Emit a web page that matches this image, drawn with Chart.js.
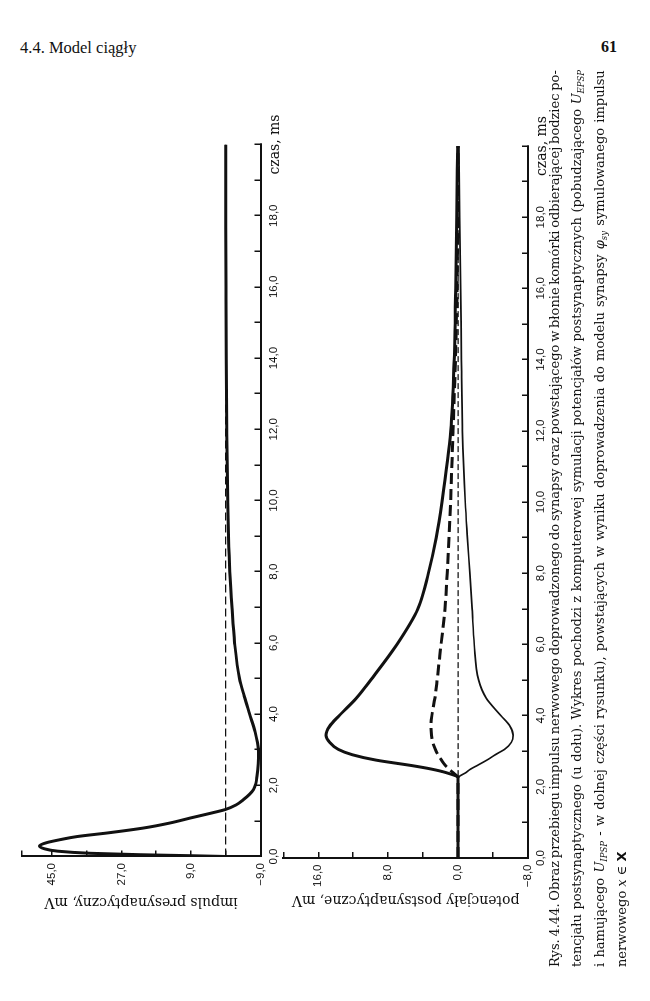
<!DOCTYPE html>
<html><head><meta charset="utf-8">
<script src="https://cdn.jsdelivr.net/npm/chart.js@4.4.1/dist/chart.umd.min.js"></script>
<style>
html,body{margin:0;padding:0;background:#fff;}
body{width:650px;height:1001px;position:relative;overflow:hidden;color:#111;}
#hdrL{position:absolute;left:20px;top:40px;font:16.5px "Liberation Serif";line-height:16px;white-space:nowrap;}
#hdrR{position:absolute;left:601px;top:39px;font:bold 16px "Liberation Serif";line-height:16px;}
#rot{position:absolute;left:0;top:1001px;width:1001px;height:650px;transform-origin:0 0;transform:rotate(-90deg);}
#cTop{position:absolute;left:0;top:0;}
#cBot{position:absolute;left:0;top:280px;}
#cap{position:absolute;left:34px;top:544px;width:897px;font:13px "DejaVu Serif";color:#111;}
#cap div{height:22.4px;line-height:22.4px;white-space:nowrap;text-align:left;}
#cap span.ln{display:inline-block;}
#cap sub{font-size:8.5px;line-height:0;vertical-align:-3px;}
</style></head>
<body>
<div id="hdrL">4.4. Model ciągły</div><div id="hdrR">61</div>
<div id="rot">
<canvas id="cTop" width="1001" height="300"></canvas>
<canvas id="cBot" width="1001" height="290"></canvas>
<div id="cap">
<div><span class="ln fit">Rys. 4.44. Obraz przebiegu impulsu nerwowego doprowadzonego do synapsy oraz powstającego w błonie komórki odbierającej bodziec po-</span></div>
<div><span class="ln fit">tencjału postsynaptycznego (u dołu). Wykres pochodzi z komputerowej symulacji potencjałów postsynaptycznych (pobudzającego <i>U</i><sub><i>EPSP</i></sub></span></div>
<div><span class="ln fit">i hamującego <i>U</i><sub><i>IPSP</i></sub> - w dolnej części rysunku), powstających w wyniku doprowadzenia do modelu synapsy <i>φ</i><sub><i>sy</i></sub> symulowanego impulsu</span></div>
<div><span class="ln">nerwowego <i>x</i> ∈ <b style="font-family:'DejaVu Sans';">X</b></span></div>
</div>
</div>
<script>
// ---- tick labels ----
const timeLabelVals = [0, 2, 4, 6, 8, 10, 12, 14, 16, 18];
const presynLabelVals = [45, 27, 9, -9];
const postLabelVals = [16, 8, 0, -8];

// ---- top chart: presynaptic impulse (mV) ----
const presynTime = [0, 0.02, 0.05, 0.09, 0.15, 0.22, 0.30, 0.39, 0.47, 0.56, 0.67, 0.80, 0.94, 1.08, 1.20, 1.32, 1.45, 1.60, 1.75, 1.88, 2.05, 2.26, 2.60, 2.90, 3.20, 3.50, 4.00, 4.50, 5.00, 6.00, 7.00, 8.00, 9.00, 10.0, 11.0, 12.0, 13.0, 14.0, 16.0, 18.0, 20.0];
const presynVals = [0, 8, 22, 35, 43.5, 47, 48.2, 46.3, 43, 38.5, 30, 21.3, 14.5, 9.2, 4.5, 0.1, -2.7, -4.6, -6.2, -7.2, -7.8, -8.1, -8.4, -8.5, -8.2, -7.6, -6.2, -4.8, -3.55, -2.3, -1.6, -1.05, -0.72, -0.52, -0.38, -0.28, -0.2, -0.14, -0.07, -0.03, 0];
const restTopTime = [0, 20];
const restTopVals = [0, 0];

// ---- bottom chart: postsynaptic potentials (mV) ----
const postTime = [0, 2.25, 2.40, 2.50, 2.60, 2.75, 2.90, 3.05, 3.25, 3.45, 3.70, 4.00, 4.50, 5.00, 6.00, 7.00, 8.00, 9.00, 10.0, 12.0, 14.0, 16.0, 18.0, 20.0];
const epspVals = [0, 0, 1.4, 3.1, 5.4, 9.4, 12.1, 13.7, 14.7, 15.1, 14.7, 13.6, 11.6, 10.0, 7.0, 4.6, 3.4, 2.5, 1.85, 0.85, 0.45, 0.28, 0.15, 0.05];
const ipspVals = [0, 0, -0.9, -1.45, -2.2, -3.3, -4.25, -5.3, -6.1, -6.3, -5.95, -4.9, -3.2, -2.35, -1.85, -1.6, -1.34, -1.07, -0.82, -0.5, -0.38, -0.3, -0.18, -0.1];
const sumVals = [0, 0, 0.6, 1.05, 1.45, 1.9, 2.3, 2.6, 2.9, 3.05, 3.1, 3.0, 2.65, 2.4, 1.95, 1.5, 1.25, 1.04, 0.86, 0.58, 0.3, 0.12, 0.05, 0];
const restBotTime = [2.3, 20];
const restBotVals = [0, 0];

// justify caption lines to the full width
document.querySelectorAll('#cap span.fit').forEach(s => {
  const n = (s.textContent.match(/ /g) || []).length;
  const w = s.offsetWidth;
  if (n > 0) s.style.wordSpacing = ((897 - w) / n) + 'px';
});

const INK = '#111';
function fmt(v) { return (v < 0 ? '\u2212' : '') + Math.abs(v).toFixed(1).replace('.', ','); }
function pts(ts, vs) { return ts.map((t, i) => ({x: t, y: vs[i]})); }
function near(a, v) { return a.some(x => Math.abs(x - v) < 1e-6); }

function line(data, width, dash) {
  return {data, showLine: true, pointRadius: 0, borderColor: INK, borderWidth: width,
    borderDash: dash || [], fill: false, cubicInterpolationMode: 'monotone',
    borderCapStyle: 'butt', borderJoinStyle: 'round'};
}

function timeScale(axisH) {
  return {
    type: 'linear', min: 0, max: 20, position: 'bottom',
    afterFit: s => { s.height = axisH; s.paddingLeft = 0; s.paddingRight = 0; },
    ticks: {
      stepSize: 1, autoSkip: false, maxRotation: 0, minRotation: 0, padding: 12, color: INK,
      callback: v => Math.abs(v - 20) < 1e-6 ? 'czas, ms' : (near(timeLabelVals, v) ? fmt(v) : ''),
      font: ctx => (ctx.tick && Math.abs(ctx.tick.value - 20) < 1e-6)
        ? {family: 'DejaVu Serif', size: 14} : {family: 'Liberation Sans', size: 11.5}
    },
    grid: {display: true, drawOnChartArea: false, drawTicks: true, tickLength: -6, color: INK, lineWidth: 1.5},
    border: {display: true, color: INK, width: 2}
  };
}

function voltScale(min, max, step, labelVals, title, axisW, titleCenter) {
  const fs = 14, lh = fs * 1.2;
  return {
    type: 'linear', min, max, position: 'left',
    afterFit: s => { s.width = axisW; s.paddingTop = 0; s.paddingBottom = 0; },
    ticks: {
      stepSize: step, autoSkip: false, padding: 12.5, color: INK,
      font: {family: 'Liberation Sans', size: 11.5},
      callback: v => near(labelVals, v) ? fmt(v) : ''
    },
    grid: {display: true, drawOnChartArea: false, drawTicks: true, tickLength: -6, color: INK, lineWidth: 1.5},
    border: {display: true, color: INK, width: 2},
    title: {display: true, text: title, color: INK, font: {family: 'DejaVu Serif', size: fs},
      padding: {top: titleCenter - lh / 2, bottom: 0}}
  };
}

const common = {
  responsive: false, animation: false, devicePixelRatio: 1, events: [],
  plugins: {legend: {display: false}, tooltip: {enabled: false}}
};

new Chart(document.getElementById('cTop'), {
  type: 'scatter',
  data: {datasets: [
    line(pts(presynTime, presynVals), 3),
    line(pts(restTopTime, restTopVals), 1.3, [8, 4])
  ]},
  options: Object.assign({}, common, {
    layout: {padding: {left: 0, right: 144.5, top: 21.7, bottom: 0}},
    scales: {
      x: timeScale(300 - 260.5),
      y: voltScale(-9, 52.8, 9, presynLabelVals, 'impuls presynaptyczny, mV', 144.5, 99)
    }
  })
});

new Chart(document.getElementById('cBot'), {
  type: 'scatter',
  data: {datasets: [
    line(pts(postTime, epspVals), 3),
    line(pts(postTime, ipspVals), 1.7),
    line(pts(postTime, sumVals), 3, [11, 5]),
    line(pts(restBotTime, restBotVals), 1.2, [6, 3])
  ]},
  options: Object.assign({}, common, {
    layout: {padding: {left: 0, right: 146, top: 3.3, bottom: 0}},
    scales: {
      x: timeScale(290 - 248),
      y: voltScale(-8, 20, 4, postLabelVals, 'potencjały postsynaptyczne, mV', 143, 101)
    }
  })
});
</script>
</body></html>
